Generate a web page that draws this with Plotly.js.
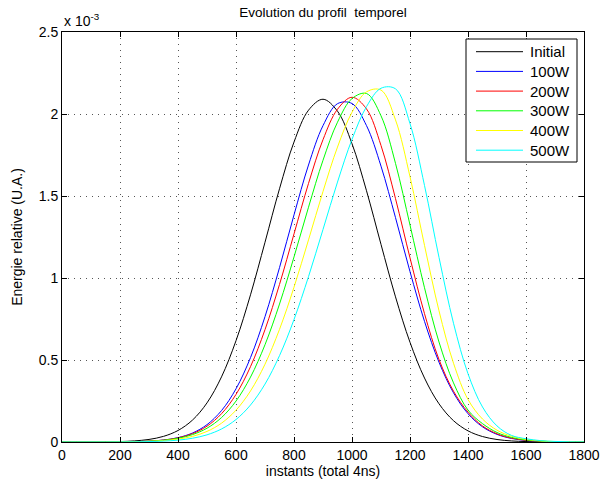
<!DOCTYPE html>
<html>
<head>
<meta charset="utf-8">
<script src="https://cdn.plot.ly/plotly-3.0.1.min.js"></script>
<style>
  html, body { margin: 0; padding: 0; background: #fff; }
  #chart { width: 603px; height: 488px; }
</style>
</head>
<body>
<div id="chart"></div>
<script>
// instants (x values)
const instants = [0,50,100,150,200,250,300,350,400,450,500,550,600,650,700,750,800,850,900,950,1000,1050,1100,1150,1200,1250,1300,1350,1400,1450,1500,1550,1600,1650,1700,1750,1800];

// Energie relative, in units of 1e-3
const initial = [0,0.0001,0.0003,0.001,0.0027,0.0067,0.0157,0.0343,0.0701,0.1337,0.2385,0.3971,0.6176,0.8975,1.218,1.544,1.829,2.023,2.090,2.017,1.819,1.532,1.205,0.885,0.608,0.390,0.233,0.130,0.068,0.0333,0.0152,0.0065,0.0026,0.001,0.0003,0.0001,0];
const p100W = [0,0,0.0001,0.0003,0.0008,0.0020,0.0051,0.0120,0.0265,0.0547,0.1058,0.1914,0.3243,0.5145,0.7644,1.0632,1.3847,1.689,1.929,2.063,2.064,1.929,1.682,1.368,1.0387,0.7357,0.4864,0.2999,0.1725,0.0926,0.0464,0.0217,0.0095,0.0039,0.0015,0.0005,0.0002];
const p200W = [0,0,0.0001,0.0003,0.0008,0.0021,0.0051,0.0117,0.0251,0.0507,0.0964,0.1724,0.2901,0.4595,0.6851,0.9608,1.2688,1.5765,1.8434,2.029,2.102,2.031,1.808,1.484,1.1227,0.7826,0.5028,0.31,0.182,0.098,0.050,0.0235,0.0103,0.0042,0.0016,0.0006,0.0002];
const p300W = [0,0,0.0001,0.0003,0.0008,0.0021,0.0049,0.0108,0.0227,0.0449,0.0841,0.1489,0.2496,0.3956,0.5932,0.8411,1.1283,1.4316,1.718,1.950,2.094,2.125,1.989,1.699,1.323,0.9404,0.6096,0.3606,0.1945,0.112,0.058,0.028,0.0125,0.005,0.002,0.0008,0.0003];
const p400W = [0,0,0.0001,0.0003,0.0007,0.0017,0.0038,0.0084,0.0174,0.0344,0.0645,0.1147,0.1939,0.3112,0.4744,0.6868,0.9439,1.2324,1.5275,1.7985,2.0107,2.1348,2.146,1.964,1.6177,1.1991,0.7999,0.4804,0.2595,0.14,0.072,0.035,0.016,0.0068,0.0027,0.001,0.0004];
const p500W = [0,0,0.0001,0.0002,0.0004,0.0011,0.0025,0.0054,0.0114,0.0229,0.0437,0.0794,0.1371,0.2255,0.3532,0.5264,0.7467,1.0083,1.2959,1.585,1.8453,2.045,2.157,2.1535,1.9416,1.564,1.1258,0.7241,0.4161,0.2136,0.0981,0.0402,0.02,0.0085,0.0035,0.0013,0.0005];

const seriesNames = ['Initial','100W','200W','300W','400W','500W'];
const seriesColors = ['#000000','#0000ff','#ff0000','#00ff00','#ffff00','#00ffff'];
const seriesData = [initial, p100W, p200W, p300W, p400W, p500W];

const xTicks = [0,200,400,600,800,1000,1200,1400,1600,1800];
const yTicks = [0,0.5,1,1.5,2,2.5];
const yTickLabels = ['0','0.5','1','1.5','2','2.5'];

const FONT = 'Liberation Sans, Arial, Helvetica, sans-serif';

// plot area geometry (px)
const W = 603, H = 488;
const M = { l: 62, r: 19, t: 32, b: 46 };
const PW = W - M.l - M.r, PH = H - M.t - M.b;
const px2x = p => (p - M.l) / PW;
const py2y = p => (H - M.b - p) / PH;

const traces = seriesData.map((ys, i) => ({
  type: 'scatter',
  mode: 'lines',
  x: instants,
  y: ys,
  name: seriesNames[i],
  line: { color: seriesColors[i], width: 1, shape: 'spline', smoothing: 1 },
  hoverinfo: 'skip',
  showlegend: false
}));

// legend box (drawn as layout shapes + annotations, MATLAB style)
const LEG = { left: 466, right: 577, top: 39, bottom: 162, lineX0: 476, lineX1: 523, textX: 528, firstY: 51.7, step: 19.7 };
const shapes = [{
  type: 'rect', xref: 'paper', yref: 'paper',
  x0: px2x(LEG.left), x1: px2x(LEG.right), y0: py2y(LEG.bottom), y1: py2y(LEG.top),
  line: { color: '#000', width: 1 }, fillcolor: '#fff', layer: 'above'
}];
const annotations = [{
  xref: 'paper', yref: 'paper',
  x: 0, y: 1,
  xanchor: 'left', yanchor: 'bottom',
  yshift: 1,
  showarrow: false,
  text: 'x 10<sup>-3</sup>',
  font: { family: FONT, size: 14, color: '#000' }
}];
seriesNames.forEach((nm, i) => {
  const yy = py2y(LEG.firstY + i * LEG.step);
  shapes.push({
    type: 'line', xref: 'paper', yref: 'paper',
    x0: px2x(LEG.lineX0), x1: px2x(LEG.lineX1), y0: yy, y1: yy,
    line: { color: seriesColors[i], width: 1 }, layer: 'above'
  });
  annotations.push({
    xref: 'paper', yref: 'paper', x: px2x(LEG.textX), y: yy,
    xanchor: 'left', yanchor: 'middle', showarrow: false,
    text: nm, font: { family: FONT, size: 15, color: '#000' }
  });
});

const axisCommon = {
  showline: true,
  linecolor: '#000',
  linewidth: 1,
  mirror: 'ticks',
  ticks: 'inside',
  ticklen: 5,
  tickwidth: 1,
  tickcolor: '#000',
  showgrid: true,
  gridcolor: '#555',
  gridwidth: 1,
  griddash: '1px,5px',
  zeroline: false,
  tickfont: { family: FONT, size: 14, color: '#000' }
};

const layout = {
  width: W,
  height: H,
  paper_bgcolor: '#fff',
  plot_bgcolor: '#fff',
  margin: { l: M.l, r: M.r, t: M.t, b: M.b, pad: 0 },
  font: { family: FONT, size: 14, color: '#000' },
  title: {
    text: 'Evolution du profil  temporel',
    font: { family: FONT, size: 13.5, color: '#000' },
    xref: 'paper', x: 0.5, xanchor: 'center',
    yref: 'container', y: 1 - 12/488, yanchor: 'middle'
  },
  xaxis: Object.assign({}, axisCommon, {
    range: [0, 1800],
    tickvals: xTicks,
    ticktext: xTicks.map(String),
    title: { text: 'instants (total 4ns)', font: { family: FONT, size: 14, color: '#000' }, standoff: 0 }
  }),
  yaxis: Object.assign({}, axisCommon, {
    range: [0, 2.5],
    tickvals: yTicks,
    ticktext: yTickLabels,
    title: { text: 'Energie relative (U.A.)', font: { family: FONT, size: 14, color: '#000' }, standoff: 12 }
  }),
  showlegend: false,
  shapes: shapes,
  annotations: annotations
};

Plotly.newPlot('chart', traces, layout, { staticPlot: true, displayModeBar: false });
</script>
</body>
</html>
